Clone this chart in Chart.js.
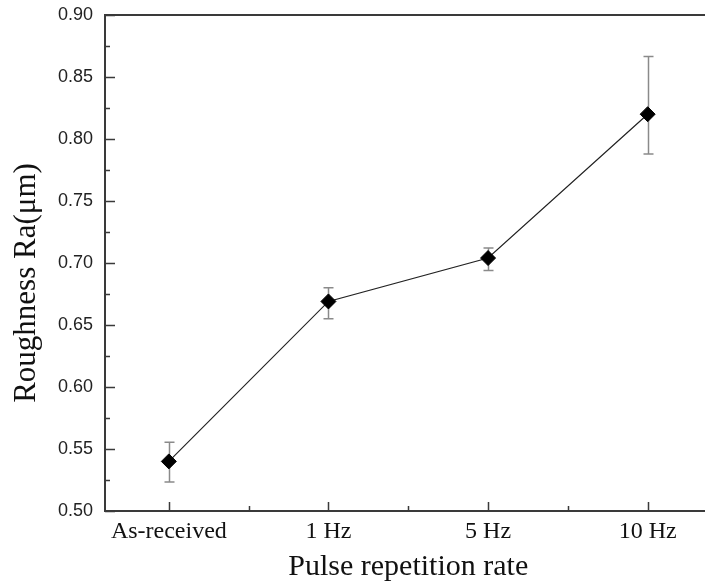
<!DOCTYPE html>
<html>
<head>
<meta charset="utf-8">
<title>Roughness vs pulse repetition rate</title>
<script src="https://cdn.jsdelivr.net/npm/chart.js@4.4.1/dist/chart.umd.min.js"></script>
<style>
  html, body { margin: 0; padding: 0; background: #fff; overflow: hidden; }
  #wrap { width: 720px; height: 588px; position: relative; }
</style>
</head>
<body>
<div id="wrap"><canvas id="roughChart"></canvas></div>
<script>
// Surface roughness Ra measured for each pulse repetition rate
const categories = ["As-received", "1 Hz", "5 Hz", "10 Hz"];
const roughness = [0.540, 0.669, 0.704, 0.820];
const errLow = [0.5234, 0.655, 0.694, 0.788];
const errHigh = [0.5555, 0.680, 0.712, 0.8665];
const yTicks = [0.50, 0.55, 0.60, 0.65, 0.70, 0.75, 0.80, 0.85, 0.90];
const yTitle = "Roughness Ra(\u03bcm)";

const axisColor = "#3a3a3a";

// frame around the plot plus inward ticks (major + minor)
const framePlugin = {
    id: "frame",
    afterDraw(chart) {
        const ctx = chart.ctx;
        const a = chart.chartArea;
        const xs = chart.scales.x, ys = chart.scales.y;
        ctx.save();
        ctx.strokeStyle = axisColor;
        ctx.lineWidth = 2;
        ctx.strokeRect(a.left, a.top, a.right - a.left, a.bottom - a.top);

        ctx.lineWidth = 1.5;
        ctx.beginPath();
        yTicks.forEach((v, i) => {
            const y = Math.round(ys.getPixelForValue(v)) + 0.5;
            ctx.moveTo(a.left, y);
            ctx.lineTo(a.left + 10, y);
            if (i < yTicks.length - 1) {
                const ym = Math.round(ys.getPixelForValue(v + 0.025)) + 0.5;
                ctx.moveTo(a.left, ym);
                ctx.lineTo(a.left + 5, ym);
            }
        });
        categories.forEach((c, i) => {
            const x = Math.round(xs.getPixelForValue(i)) + 0.5;
            ctx.moveTo(x, a.bottom);
            ctx.lineTo(x, a.bottom - 9);
            const xm = Math.round(xs.getPixelForValue(i + 0.5)) + 0.5;
            ctx.moveTo(xm, a.bottom);
            ctx.lineTo(xm, a.bottom - 5);
        });
        ctx.stroke();

        // rotated y-axis title, sitting a little below the axis middle
        ctx.fillStyle = "#111";
        ctx.font = "31px 'Liberation Serif'";
        ctx.textAlign = "center";
        ctx.textBaseline = "alphabetic";
        ctx.translate(35, (a.top + a.bottom) / 2 + 20);
        ctx.rotate(-Math.PI / 2);
        ctx.fillText(yTitle, 0, 0);
        ctx.restore();
    }
};

// vertical error bars with caps, drawn under the markers
const errorBarPlugin = {
    id: "errorBars",
    beforeDatasetsDraw(chart) {
        const ctx = chart.ctx;
        const xs = chart.scales.x, ys = chart.scales.y;
        ctx.save();
        ctx.strokeStyle = "#8a8a8a";
        ctx.lineWidth = 1.5;
        ctx.beginPath();
        roughness.forEach((v, i) => {
            const x = Math.round(xs.getPixelForValue(i)) + 0.5;
            const yl = ys.getPixelForValue(errLow[i]);
            const yh = ys.getPixelForValue(errHigh[i]);
            ctx.moveTo(x, yl);
            ctx.lineTo(x, yh);
            ctx.moveTo(x - 5, yh);
            ctx.lineTo(x + 5, yh);
            ctx.moveTo(x - 5, yl);
            ctx.lineTo(x + 5, yl);
        });
        ctx.stroke();
        ctx.restore();
    }
};

new Chart(document.getElementById("roughChart"), {
    type: "line",
    data: {
        datasets: [{
            data: roughness.map((v, i) => ({ x: i, y: v })),
            borderColor: "#222",
            borderWidth: 1.2,
            pointStyle: "rectRot",
            pointRadius: 7.5,
            pointHoverRadius: 7.5,
            pointBackgroundColor: "#000",
            pointBorderColor: "#000",
            pointBorderWidth: 1,
            tension: 0
        }]
    },
    options: {
        responsive: true,
        maintainAspectRatio: false,
        animation: false,
        layout: { padding: { top: 15, right: 7, left: 0, bottom: 0 } },
        plugins: {
            legend: { display: false },
            tooltip: { enabled: false }
        },
        scales: {
            x: {
                type: "linear",
                min: -0.4,
                max: 3.4,
                grid: { display: false, drawTicks: false },
                border: { display: false },
                afterBuildTicks(scale) {
                    scale.ticks = categories.map((c, i) => ({ value: i }));
                },
                afterFit(scale) {
                    scale.height = 77;
                    scale.paddingLeft = 0;
                    scale.paddingRight = 0;
                },
                ticks: {
                    autoSkip: false,
                    maxRotation: 0,
                    padding: 6,
                    color: "#111",
                    font: { family: "Liberation Serif", size: 24 },
                    callback: (v) => categories[v]
                },
                title: {
                    display: true,
                    text: "Pulse repetition rate",
                    color: "#111",
                    font: { family: "Liberation Serif", size: 30 },
                    padding: { top: 0, bottom: 3 }
                }
            },
            y: {
                min: 0.5,
                max: 0.9,
                grid: { display: false, drawTicks: false },
                border: { display: false },
                afterBuildTicks(scale) {
                    scale.ticks = yTicks.map(v => ({ value: v }));
                },
                afterFit(scale) {
                    scale.width = 105;
                    scale.paddingTop = 0;
                    scale.paddingBottom = 0;
                },
                ticks: {
                    padding: 12,
                    color: "#222",
                    font: { family: "Liberation Sans", size: 18 },
                    callback: (v) => Number(v).toFixed(2)
                },
                title: { display: false }
            }
        }
    },
    plugins: [framePlugin, errorBarPlugin]
});
</script>
</body>
</html>
